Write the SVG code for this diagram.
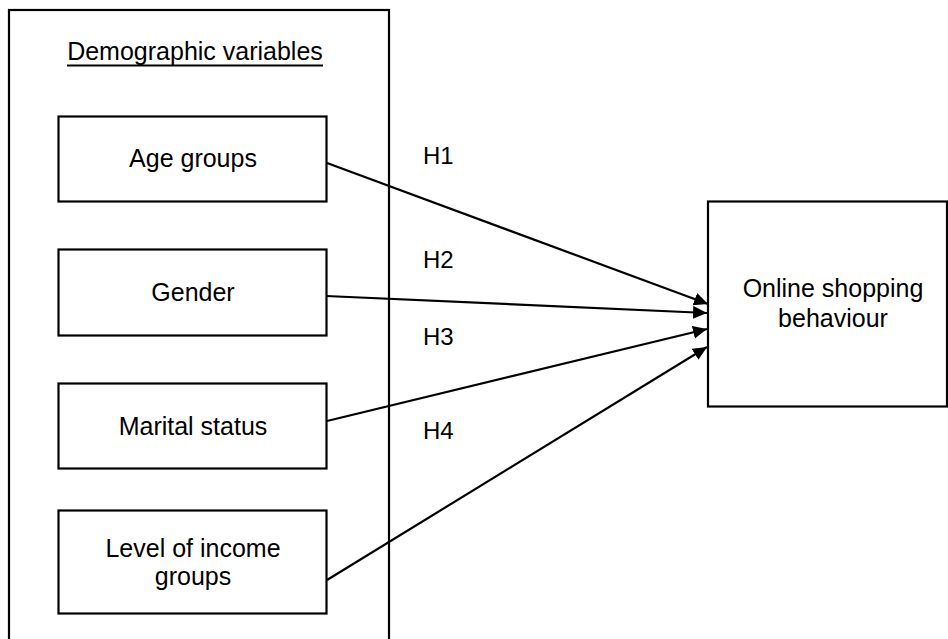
<svg xmlns="http://www.w3.org/2000/svg" width="948" height="639" viewBox="0 0 948 639">
<style>
  .box { fill: #ffffff; stroke: #000000; stroke-width: 2.2; }
  .frame { fill: none; stroke: #000000; stroke-width: 2.2; }
  .t { font-family: "Liberation Sans", Arial, sans-serif; font-size: 25px; fill: #000000; text-anchor: middle; }
  .h { font-family: "Liberation Sans", Arial, sans-serif; font-size: 24px; fill: #000000; }
  .conn { stroke: #000000; stroke-width: 2.2; fill: none; marker-end: url(#arr); }
</style>
<defs>
  <marker id="arr" markerUnits="userSpaceOnUse" markerWidth="16" markerHeight="16" refX="14" refY="6.5" orient="auto">
    <path d="M0,0 L14,6.5 L0,13 Z" fill="#000000"/>
  </marker>
</defs>
<rect width="948" height="639" fill="#ffffff"/>
<g id="demographic-group">
  <rect class="frame" x="9" y="10" width="380" height="660"/>
  <text class="t" x="195" y="60">Demographic variables</text>
  <line x1="67" y1="65.5" x2="323" y2="65.5" stroke="#000000" stroke-width="2"/>
</g>
<g id="age-groups">
  <rect class="box" x="58.5" y="116.5" width="268" height="85"/>
  <text class="t" x="193" y="167">Age groups</text>
</g>
<g id="gender">
  <rect class="box" x="58.5" y="249.5" width="268" height="86"/>
  <text class="t" x="193" y="301">Gender</text>
</g>
<g id="marital-status">
  <rect class="box" x="58.5" y="383.5" width="268" height="85"/>
  <text class="t" x="193" y="435">Marital status</text>
</g>
<g id="income">
  <rect class="box" x="58.5" y="510.5" width="268" height="103"/>
  <text class="t" x="193" y="557">Level of income</text>
  <text class="t" x="193" y="585">groups</text>
</g>
<g id="online-shopping">
  <rect class="box" x="708" y="201.5" width="239" height="205"/>
  <text class="t" x="833" y="297">Online shopping</text>
  <text class="t" x="833" y="327">behaviour</text>
</g>
<g id="connectors">
  <line class="conn" x1="327" y1="163" x2="708" y2="304"/>
  <line class="conn" x1="326" y1="296" x2="707" y2="313"/>
  <line class="conn" x1="327" y1="421" x2="707" y2="329"/>
  <line class="conn" x1="327" y1="580" x2="707" y2="347"/>
  <text class="h" x="423" y="164">H1</text>
  <text class="h" x="423" y="268">H2</text>
  <text class="h" x="423" y="345">H3</text>
  <text class="h" x="423" y="439">H4</text>
</g>
</svg>
